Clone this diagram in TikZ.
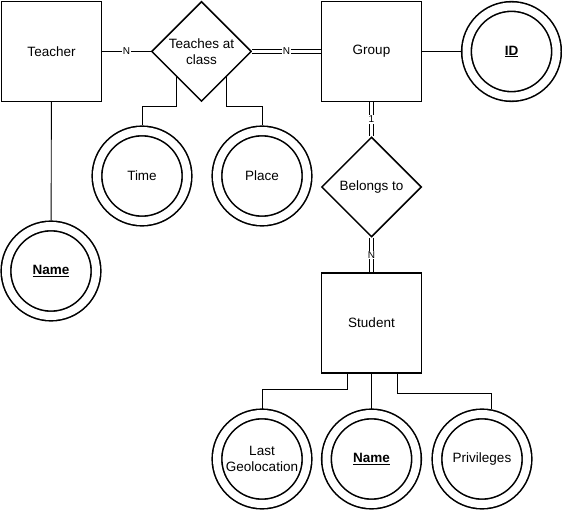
\documentclass[tikz,border=0pt]{standalone}
\usepackage{fontspec}
\setmainfont{Liberation Sans}
\usetikzlibrary{shapes.geometric}
\begin{document}
\begin{tikzpicture}[x=1pt,y=-1pt,
  every node/.style={font=\fontsize{13.5}{15.5}\selectfont},
  entity/.style={draw, line width=1.5pt, rectangle, minimum size=100pt, inner sep=0pt},
  relation/.style={draw, line width=1.5pt, diamond, aspect=1, minimum width=100pt, minimum height=100pt, inner sep=0pt, align=center},
  attr/.style={draw, circle, line width=1.6pt, double, double distance=8pt, minimum size=90pt, inner sep=0pt, outer sep=5.5pt, align=center},
  conn/.style={line width=0.9pt},
  dconn/.style={line width=0.9pt, double, double distance=2.6pt},
  card/.style={fill=white, inner sep=1pt, font=\fontsize{10}{12}\selectfont}
]
\useasboundingbox (0,0) rectangle (562,510);

\node[entity] (teacher) at (51.5,51.5) {Teacher};
\node[relation] (teach) at (201.5,51.5) {Teaches at\\class};
\node[entity] (group) at (371.5,51.5) {Group};
\node[attr] (id) at (511.5,51.5) {\underline{\textbf{ID}}};
\node[attr] (time) at (142,176) {Time};
\node[attr] (place) at (262,176) {Place};
\node[attr] (tname) at (51,271) {\underline{\textbf{Name}}};
\node[relation] (belongs) at (371.5,187) {Belongs to};
\node[entity] (student) at (371.5,323) {Student};
\node[attr] (geo) at (262,459) {Last\\Geolocation};
\node[attr] (sname) at (371.5,459) {\underline{\textbf{Name}}};
\node[attr] (priv) at (482,459) {Privileges};

\draw[conn] (teacher) -- node[card] {N} (teach);
\draw[dconn] (teach) -- node[card] {N} (group);
\draw[conn] (group) -- (id);
\draw[conn] (teacher) -- (tname);
\draw[conn] (teach.south west) -- ++(0,30) -| (time.north);
\draw[conn] (teach.south east) -- ++(0,30) -| (place.north);
\draw[dconn] (group) -- node[card] {1} (belongs);
\draw[dconn] (belongs) -- node[card] {N} (student);
\draw[conn] ([xshift=-24.5pt]student.south) -- ++(0,16) -| (geo.north);
\draw[conn] (student.south) -- (sname.north);
\draw[conn] ([xshift=25.5pt]student.south) -- ++(0,20) -| (priv.79);
\end{tikzpicture}
\end{document}
